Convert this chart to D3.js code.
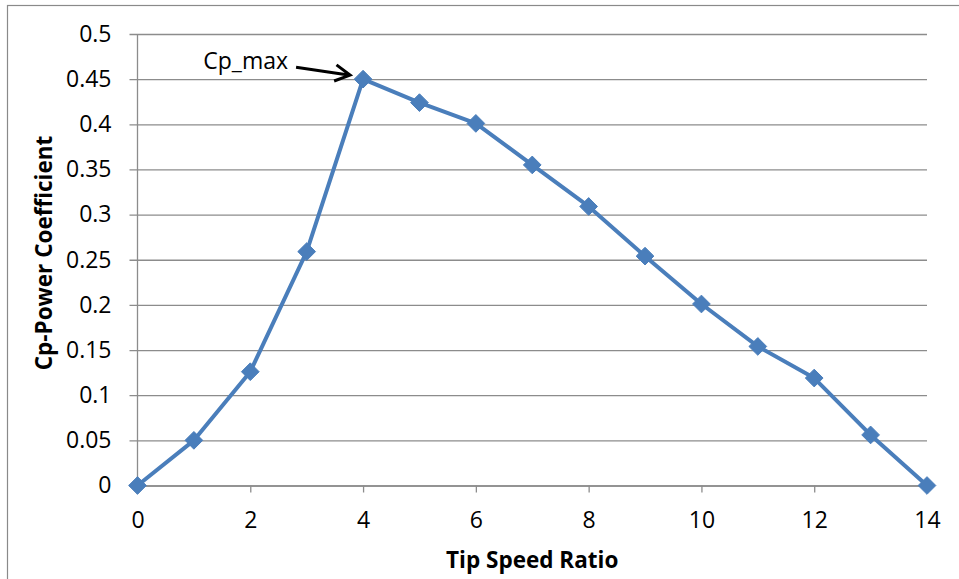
<!DOCTYPE html>
<html>
<head>
<meta charset="utf-8">
<script src="https://cdn.jsdelivr.net/npm/d3@7"></script>
<style>
  html, body { margin: 0; padding: 0; background: #fff; }
  svg { display: block; }
  text { font-family: "Open Sans", "Noto Sans", sans-serif; fill: #000; }
</style>
</head>
<body>
<svg id="chart" width="959" height="579"></svg>
<script>
// Power coefficient versus tip speed ratio
const tipSpeedRatio = [0, 1, 2, 3, 4, 5, 6, 7, 8, 9, 10, 11, 12, 13, 14];
const powerCoefficient = [0, 0.05, 0.126, 0.259, 0.45, 0.424, 0.401, 0.355, 0.309, 0.254, 0.201, 0.154, 0.119, 0.056, 0];
const xTicks = [0, 2, 4, 6, 8, 10, 12, 14];
const yTicks = [0, 0.05, 0.1, 0.15, 0.2, 0.25, 0.3, 0.35, 0.4, 0.45, 0.5];
const peakLabel = "Cp_max";
const xTitle = "Tip Speed Ratio";
const yTitle = "Cp-Power Coefficient";

const svg = d3.select("#chart");
const W = 959, H = 579;
const plot = { left: 137.5, right: 927, top: 34, bottom: 485.5 };

// chart frame
svg.append("rect")
  .attr("x", 7.5).attr("y", 5.5)
  .attr("width", W + 10).attr("height", H + 10)
  .attr("fill", "none").attr("stroke", "#8a8a8a").attr("stroke-width", 1.2);

const x = d3.scaleLinear().domain([0, 14]).range([plot.left, plot.right]);
const y = d3.scaleLinear().domain([0, 0.5]).range([plot.bottom, plot.top]);

// horizontal gridlines with left ticks
const yAxis = d3.axisLeft(y)
  .tickValues(yTicks)
  .tickSize(-(plot.right - plot.left))
  .tickSizeOuter(0)
  .tickPadding(18)
  .tickFormat(d => String(+d.toFixed(2)));

const gy = svg.append("g").attr("transform", `translate(${plot.left},0)`).call(yAxis);
gy.select(".domain").remove();
gy.selectAll(".tick line")
  .attr("x1", -8)
  .attr("stroke", "#8c8c8c").attr("stroke-width", 1.3);
gy.selectAll(".tick text")
  .attr("x", -26)
  .style("font-size", "23px").attr("fill", "#000");

// y axis line
svg.append("line")
  .attr("x1", plot.left).attr("x2", plot.left)
  .attr("y1", plot.top).attr("y2", plot.bottom)
  .attr("stroke", "#8c8c8c").attr("stroke-width", 1.3);

// x axis
const xAxis = d3.axisBottom(x)
  .tickValues(xTicks)
  .tickSize(7)
  .tickSizeOuter(0)
  .tickPadding(19)
  .tickFormat(d3.format("d"));
const gx = svg.append("g").attr("transform", `translate(0,${plot.bottom})`).call(xAxis);
gx.select(".domain").attr("stroke", "#8c8c8c").attr("stroke-width", 1.3);
gx.selectAll(".tick line").attr("stroke", "#8c8c8c").attr("stroke-width", 1.3);
gx.selectAll(".tick text").style("font-size", "23px").attr("fill", "#000");

// data line
const pts = tipSpeedRatio.map((t, i) => [t, powerCoefficient[i]]);
svg.append("path")
  .datum(pts)
  .attr("fill", "none")
  .attr("stroke", "#4a7ebb")
  .attr("stroke-width", 4)
  .attr("stroke-linejoin", "round")
  .attr("d", d3.line().x(d => x(d[0])).y(d => y(d[1])));

// diamond markers
const diamond = d3.symbol().type(d3.symbolDiamond2).size(200);
svg.append("g").selectAll("path")
  .data(pts)
  .join("path")
  .attr("transform", d => `translate(${x(d[0])},${y(d[1])})`)
  .attr("d", diamond)
  .attr("fill", "#4a7ebb")
  .attr("stroke", "#4a7ebb")
  .attr("stroke-width", 1);

// peak annotation with arrow
const peakIdx = powerCoefficient.indexOf(d3.max(powerCoefficient));
const px = x(tipSpeedRatio[peakIdx]), py = y(powerCoefficient[peakIdx]);
const tip = [px - 13, py - 4];
const tail = [px - 67, py - 12];
svg.append("text")
  .attr("x", tail[0] - 8).attr("y", py - 10)
  .attr("text-anchor", "end")
  .style("font-size", "23px")
  .text(peakLabel);
const ang = Math.atan2(tip[1] - tail[1], tip[0] - tail[0]);
const headLen = 17, headAng = 0.5;
svg.append("path")
  .attr("d", `M${tail[0]},${tail[1]}L${tip[0]},${tip[1]}` +
    `M${tip[0] - headLen * Math.cos(ang - headAng)},${tip[1] - headLen * Math.sin(ang - headAng)}` +
    `L${tip[0]},${tip[1]}` +
    `L${tip[0] - headLen * Math.cos(ang + headAng)},${tip[1] - headLen * Math.sin(ang + headAng)}`)
  .attr("fill", "none").attr("stroke", "#000").attr("stroke-width", 3)
  .attr("stroke-linejoin", "miter");

// axis titles
svg.append("text")
  .attr("x", (plot.left + plot.right) / 2).attr("y", 568)
  .attr("text-anchor", "middle")
  .style("font-size", "22.5px").style("font-weight", "bold")
  .text(xTitle);
svg.append("text")
  .attr("transform", `translate(52,253) rotate(-90)`)
  .attr("text-anchor", "middle")
  .style("font-size", "22.5px").style("font-weight", "bold")
  .text(yTitle);
</script>
</body>
</html>
